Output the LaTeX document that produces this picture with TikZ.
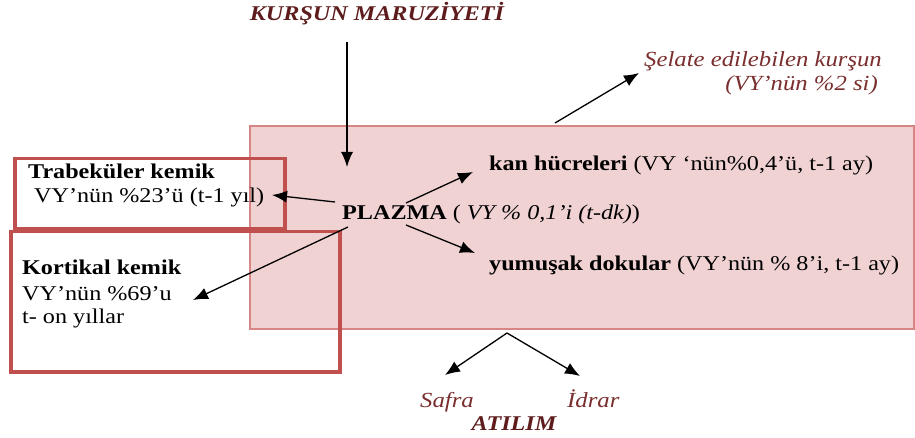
\documentclass[tikz,border=0pt]{standalone}
\usepackage{fontspec}
\setmainfont[FakeStretch=1.15]{Liberation Serif}
\usetikzlibrary{arrows.meta}
\definecolor{boxred}{HTML}{C0504D}
\definecolor{pinkfill}{HTML}{F0D2D3}
\definecolor{pinkline}{HTML}{D88585}
\definecolor{labelbrown}{HTML}{7A2E2E}
\definecolor{titlebrown}{HTML}{5E1C1C}
\begin{document}
\begin{tikzpicture}[x=1pt,y=-1pt,
  txt/.style={inner sep=0pt, anchor=base west, font=\fontsize{21}{25}\selectfont},
  lbl/.style={txt, text=labelbrown, font=\fontsize{21.5}{25}\selectfont\itshape},
  head/.style={txt, anchor=base, text=titlebrown, font=\fontsize{21}{25}\selectfont\bfseries\itshape},
  zone/.style={draw=pinkline, fill=pinkfill, line width=2pt, inner sep=0pt, anchor=north west},
  bonebox/.style={draw=boxred, line width=3.5pt, inner sep=0pt, anchor=north west},
  arr/.style={-{Latex[length=15pt,width=12pt]}, line width=1.3pt, black}
]
\useasboundingbox (0,0) rectangle (915,438);
\fill[white] (0,0) rectangle (915,438);

% tissue compartment and bone boxes
\node[zone, minimum width=664pt, minimum height=203pt] (zonebox) at (249,125) {};
\node[bonebox, minimum width=270pt, minimum height=70pt] (trabbox) at (13,157) {};
\node[bonebox, minimum width=329pt, minimum height=140pt] (kortbox) at (9,230) {};

% texts
\node[head] (title) at (377,21) {KURŞUN MARUZİYETİ};
\node[txt] (trab1) at (28,179) {\textbf{Trabeküler kemik}};
\node[txt] (trab2) at (34,203) {VY’nün \%23’ü (t-1 yıl)};
\node[txt] (kort1) at (22,275) {\textbf{Kortikal kemik}};
\node[txt] (kort2) at (22,300) {VY’nün \%69’u};
\node[txt] (kort3) at (22,323) {t- on yıllar};
\node[txt] (plazma) at (342,220) {\textbf{PLAZMA} ( \textit{VY \% 0,1’i (t-dk)})};
\node[txt] (kan) at (489,171) {\textbf{kan hücreleri} (VY ‘nün\%0,4’ü, t-1 ay)};
\node[txt] (yumusak) at (489,270) {\textbf{yumuşak dokular} (VY’nün \% 8’i, t-1 ay)};
\node[lbl, anchor=base east] (selate1) at (882,67) {Şelate edilebilen kurşun};
\node[lbl, anchor=base east] (selate2) at (878,91) {(VY’nün \%2 si)};
\node[lbl] (safra) at (420,407) {Safra};
\node[lbl] (idrar) at (567,407) {İdrar};
\node[head] (atilim) at (514,430) {ATILIM};

% connector end points
\coordinate (exposure) at (347,42);
\coordinate (plazmaTop) at (347,167);
\coordinate (chelS) at (555,123);
\coordinate (chelE) at (639,73);
\coordinate (pKanS) at (406,203);
\coordinate (pKanE) at (473,172);
\coordinate (pYumS) at (406,225);
\coordinate (pYumE) at (475,253);
\coordinate (pTrabS) at (335,202);
\coordinate (pTrabE) at (272,195);
\coordinate (pKortS) at (348,227);
\coordinate (pKortE) at (193,300);
\coordinate (excr) at (507,333);
\coordinate (safraE) at (445,375);
\coordinate (idrarE) at (580,376);

% connectors
\draw[arr] (exposure) -- (plazmaTop);
\draw[arr] (chelS) -- (chelE);
\draw[arr] (pKanS) -- (pKanE);
\draw[arr] (pYumS) -- (pYumE);
\draw[arr] (pTrabS) -- (pTrabE);
\draw[arr] (pKortS) -- (pKortE);
\draw[arr] (excr) -- (safraE);
\draw[arr] (excr) -- (idrarE);
\end{tikzpicture}
\end{document}
